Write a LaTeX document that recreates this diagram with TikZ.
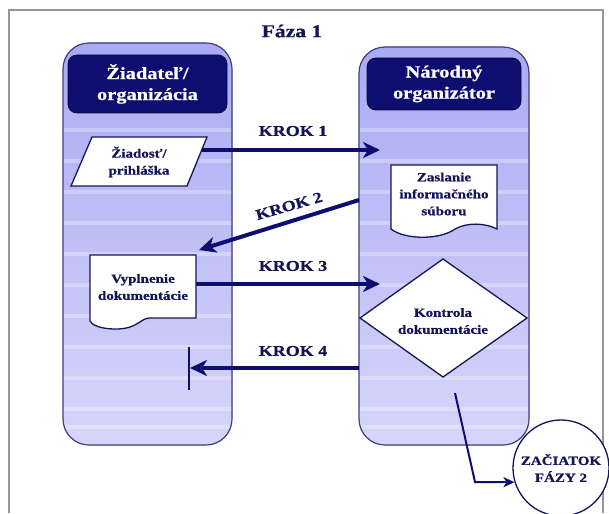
\documentclass[tikz,border=0pt]{standalone}
\usepackage{fontspec}
\setmainfont{Liberation Serif}[FakeStretch=1.2, BoldFeatures={FakeBold=0.8}]
\usetikzlibrary{arrows.meta}

\definecolor{navy}{RGB}{14,14,112}
\definecolor{ink}{RGB}{20,20,88}
\definecolor{lanetop}{RGB}{170,170,243}
\definecolor{lanelow}{RGB}{214,214,250}
\definecolor{laneedge}{RGB}{62,62,132}
\definecolor{framegray}{RGB}{150,150,156}

\begin{document}
\begin{tikzpicture}[x=1pt,y=-1pt,
  lane/.style={draw=laneedge, line width=1.2pt, rounded corners=26pt},
  lanebody/.style={top color=lanetop, bottom color=lanelow, rounded corners=26pt},
  header/.style={fill=navy, draw=navy!60!black, line width=0.8pt, rounded corners=9pt},
  headtext/.style={text=white, font=\fontsize{17}{21}\selectfont\bfseries, align=center},
  shapeline/.style={draw=ink, line width=1.3pt, fill=white},
  boxtext/.style={text=ink, font=\fontsize{12.5}{17}\selectfont\bfseries, align=center},
  kroktext/.style={text=ink, font=\fontsize{15}{18}\selectfont\bfseries},
  flowarrow/.style={navy, line width=4pt, -{Stealth[length=17pt,width=16pt,inset=5pt]}},
  thinarrow/.style={navy, line width=2pt, -{Stealth[length=11pt,width=10pt,inset=3pt]}},
  stripe/.style={fill=white, opacity=0.3}]

\useasboundingbox (0,0) rectangle (609,513);
\fill[white] (0,0) rectangle (609,513);

% outer frame, open at the bottom
\draw[framegray, line width=1.6pt] (9,513) -- (9,10) -- (603,10) -- (603,513);

% phase title
\node[kroktext, font=\fontsize{18}{21}\selectfont\bfseries] (title) at (292,31) {Fáza 1};

% swimlanes with light horizontal bands
\foreach \lx/\rx/\ty in {63/232/43, 359/529/47} {
  \fill[lanebody] (\lx,\ty) rectangle (\rx,445);
  \begin{scope}
    \clip[rounded corners=26pt] (\lx,\ty) rectangle (\rx,445);
    \foreach \sy in {128,159,190,221,252,283,314,345,376,407,425} {
      \fill[stripe] (\lx,\sy) rectangle (\rx,\sy+4);
    }
  \end{scope}
  \draw[lane] (\lx,\ty) rectangle (\rx,445);
}

% lane headers
\draw[header] (68,55) rectangle (227,113);
\node[headtext] (applicant) at (147.5,84) {Žiadateľ/\\organizácia};
\draw[header] (367,58) rectangle (521,110);
\node[headtext] (organizer) at (444,84) {Národný\\organizátor};

% request (parallelogram)
\draw[shapeline] (92,137) -- (207,137) -- (187,186) -- (71,186) -- cycle;
\node[boxtext] (request) at (139,162) {Žiadosť/\\prihláška};

% information package (document)
\draw[shapeline] (391,165) -- (497,165) -- (497,229)
  .. controls (485,223) and (468,222) .. (455,229)
  .. controls (440,240) and (405,240) .. (391,229) -- cycle;
\node[boxtext] (infopack) at (444,194) {Zaslanie\\informačného\\súboru};

% filled-in documents (document)
\draw[shapeline] (90,255) -- (196,255) -- (196,318) -- (150,318)
  .. controls (140,318) and (138,329) .. (116,329)
  .. controls (100,329) and (92,325) .. (90,321) -- cycle;
\node[boxtext] (filled) at (143,287) {Vyplnenie\\dokumentácie};

% check (diamond)
\draw[shapeline] (443,259) -- (527,318) -- (443,377) -- (360,318) -- cycle;
\node[boxtext] (check) at (443,321) {Kontrola\\dokumentácie};

% phase 2 connector
\node[circle, draw=ink, line width=1.3pt, fill=white, minimum size=96pt, inner sep=0pt,
      boxtext] (phase2) at (561,468) {ZAČIATOK\\FÁZY 2};

% connector end points
\coordinate (k1s) at (202,150);
\coordinate (k1e) at (380,150);
\coordinate (k2s) at (359,200);
\coordinate (k2e) at (199,250);
\coordinate (k3s) at (196,284);
\coordinate (k3e) at (380,284);
\coordinate (k4s) at (359,368);
\coordinate (k4e) at (190,368);
\coordinate (bartop) at (189,347);
\coordinate (barbot) at (189,390);
\coordinate (exits) at (455,393);
\coordinate (exitbend) at (475,482);

% steps
\draw[flowarrow] (k1s) -- (k1e);
\node[kroktext] (step1) at (293,131) {KROK 1};
\draw[flowarrow] (k2s) -- (k2e);
\node[kroktext, rotate=16] (step2) at (289,206) {KROK 2};
\draw[flowarrow] (k3s) -- (k3e);
\node[kroktext] (step3) at (293,266) {KROK 3};
\draw[flowarrow] (k4s) -- (k4e);
\draw[navy, line width=2.5pt] (bartop) -- (barbot);
\node[kroktext] (step4) at (293,351) {KROK 4};

% on to phase 2
\draw[thinarrow] (exits) -- (exitbend) -- (phase2.197);

\end{tikzpicture}
\end{document}
